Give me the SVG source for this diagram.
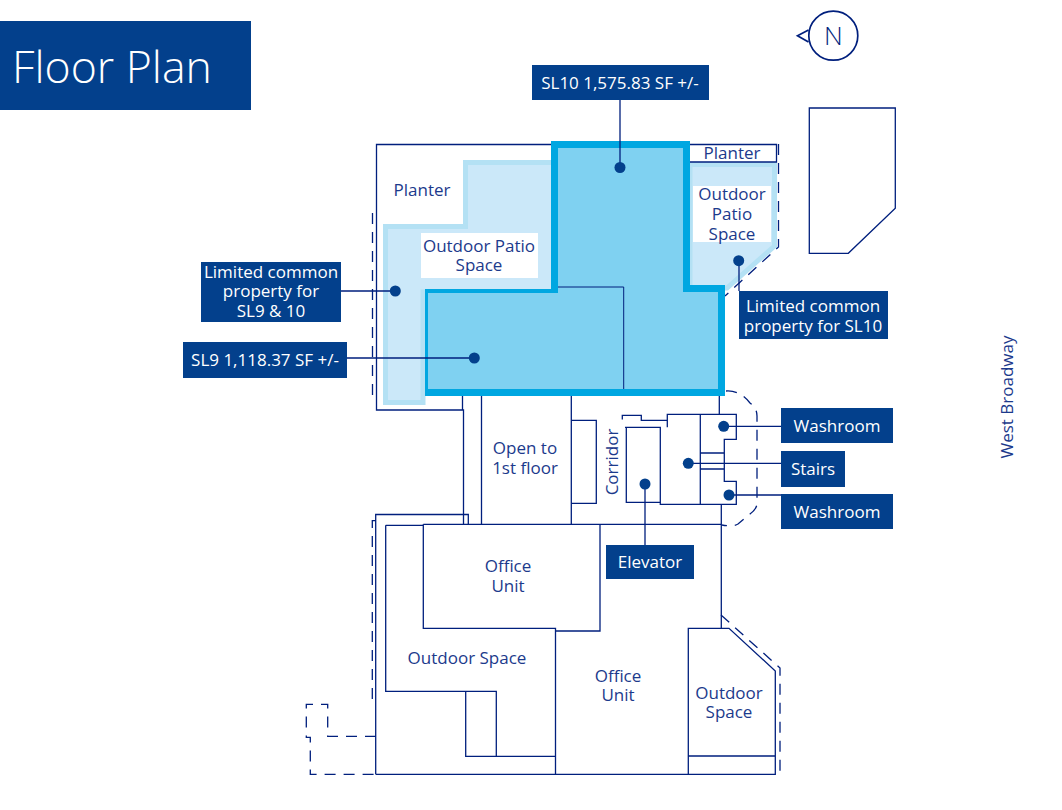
<svg xmlns="http://www.w3.org/2000/svg" width="1062" height="810" viewBox="0 0 1062 810">
<style>
text{font-family:"Open Sans","Noto Sans","Liberation Sans",sans-serif;font-size:17px;text-anchor:middle}
.t{fill:#1c3a8c}.w{fill:#fff}.box{fill:#03408c}
.l{fill:none;stroke:#001f7d;stroke-width:1.3}
.d{fill:none;stroke:#001f7d;stroke-width:1.3;stroke-dasharray:11 8}
.p{fill:#cbe8f9;stroke:#b4e1f4;stroke-width:5}
.lead{stroke:#001f7d;stroke-width:1.3;fill:none}
.dot{fill:#03408c}
</style>
<rect width="1062" height="810" fill="#fff"/>
<g id="title"><rect class="box" x="0" y="21" width="251" height="89"/><text x="12" y="83" class="w" style="font-size:44.6px;font-weight:300;text-anchor:start">Floor Plan</text></g>
<g id="north">
<circle class="l" cx="833.3" cy="35.7" r="24.5" style="stroke-width:1.7"/>
<path class="l" d="M808.500 30 L797.500 35.700 L808.500 42" style="stroke-width:1.7"/>
<text x="833.300" y="45" style="font-size:26px;font-weight:300;fill:#001f7d">N</text>
</g>
<g id="building"><path class="l" d="M809.300 108 H895.300 V208.300 L848.300 253.300 H809.300 Z"/></g>
<g id="patio-left"><path class="p" d="M385.500 226.500 H465.500 V162.500 H554 V292 H423 V402.500 H385.500 Z"/><rect x="421" y="233" width="117" height="45" fill="#fff"/></g>
<g id="patio-right"><path class="p" d="M690 164.500 H774.500 V246 L727 288 V288 H690 Z"/><rect x="693" y="186" width="78" height="56" fill="#fff"/></g>
<g id="walls">
<path class="l" d="M552 144.500 H376.500 V410 H463.500 V525"/>
<path class="l" d="M462.500 396 V410M481.500 396 V524M571.300 396 V524"/>
<path class="l" d="M690 144.500 H776.500 V162 H690"/>
<path class="d" d="M778.500 144 V247 L725 296"/>
<path class="d" d="M372.500 213 V397"/>
<path class="l" d="M571.300 420.300 H596.300 V503.300 H571.300"/>
<path class="l" d="M626.300 427.700 V502.300 H660.300"/>
<path class="l" d="M622.300 419.500 V415.300 H641.300 V420.300 H667.300 V414.300 H736.300 V439.300 H724.300 V481.300 H736.300 V504.300 H660.300 V427.300 H625M667.300 420.300 V427.300M700.300 414.300 V504.300M700.300 453 H724.300M700.300 469 H724.300M719.300 396 V414.300"/>
<path class="d" d="M726 391 Q740 390 750 403 Q757 408 757 416 V503 Q757 509 750 514 L738 524 Q733 527 722 525"/>
<path class="l" d="M375.700 774.300 V514.500 H468.300 V524.500"/>
<path class="l" d="M423.300 524.300 H721.300M385.700 525.300 H423M385.700 525.300 V691.300 H496.300 V756.300M465.700 691.300 V756.300 H555.500"/>
<path class="l" d="M423.300 524.300 V628.300 H555.500 V774.300M555.500 631 H600 V524.300"/>
<path class="l" d="M721.300 504.300 V628.300"/>
<path class="l" d="M375.700 774.300 H775.300 V671 L729 628.300 H688.300 V774.300M688.300 756 H775.300"/>
<path class="d" d="M721 615 L780 668 V772 H775"/>
<path class="d" d="M376 520.700 H372.300 V702 H376"/>
<path class="d" d="M376 736.300 H327.700 V704.300 H306.300 V737.300 H310.300 V774.300 H376"/>
</g>
<g id="sl9-sl10">
<path d="M551 141 H690 V285 H725 V396 H425 V289 H551 Z" fill="#7fd1f1"/>
<path d="M558 287 H623.700 V389" class="l" style="stroke-width:1"/>
<path d="M551 141 H690 V285 H725 V396 H425 V289 H551 Z M558 148 V293 H428 V389 H718 V292 H683 V148 Z" fill="#00a7e1" fill-rule="evenodd"/>
</g>
<g id="connectors">
<path class="lead" d="M620 100 V167M341 291 H395M347 358 H474M739 261 V291M723.700 426.300 H781M688.300 463.300 H781M729 495 H781M645 484 V545"/>
</g>
<g id="dots">
<circle class="dot" cx="620" cy="167.500" r="5.500"/><circle class="dot" cx="395.300" cy="291" r="5.500"/><circle class="dot" cx="474.300" cy="358" r="5.500"/><circle class="dot" cx="738.700" cy="260.700" r="5.500"/><circle class="dot" cx="723.700" cy="426.300" r="5.500"/><circle class="dot" cx="688.300" cy="463.300" r="5.500"/><circle class="dot" cx="729" cy="495" r="5.500"/><circle class="dot" cx="645" cy="484" r="5.500"/>
</g>
<g id="label-sl10"><rect class="box" x="532" y="65" width="177" height="35"/><text x="620" y="89" class="w">SL10 1,575.83 SF +/-</text></g>
<g id="label-lcp-9-10"><rect class="box" x="201" y="262" width="140" height="60"/><text x="271" y="278" class="w">Limited common</text><text x="271" y="297" class="w">property for</text><text x="271" y="317" class="w">SL9 &amp; 10</text></g>
<g id="label-sl9"><rect class="box" x="183" y="342" width="164" height="36"/><text x="265" y="366" class="w">SL9 1,118.37 SF +/-</text></g>
<g id="label-lcp-10"><rect class="box" x="739" y="291" width="149" height="48"/><text x="813" y="312" class="w">Limited common</text><text x="813" y="332" class="w">property for SL10</text></g>
<g id="label-washroom-1"><rect class="box" x="781" y="408" width="112" height="35"/><text x="837" y="432" class="w">Washroom</text></g>
<g id="label-stairs"><rect class="box" x="781" y="451" width="64" height="36"/><text x="813" y="475" class="w">Stairs</text></g>
<g id="label-washroom-2"><rect class="box" x="781" y="494" width="112" height="35"/><text x="837" y="518" class="w">Washroom</text></g>
<g id="label-elevator"><rect class="box" x="606" y="545" width="88" height="34"/><text x="650" y="568" class="w">Elevator</text></g>
<g id="room-labels" class="t">
<text x="422" y="196">Planter</text>
<text x="479" y="252">Outdoor Patio</text><text x="479" y="271">Space</text>
<text x="732" y="159">Planter</text>
<text x="732" y="200">Outdoor</text><text x="732" y="220">Patio</text><text x="732" y="240">Space</text>
<text x="525" y="454">Open to</text><text x="525" y="474">1st floor</text>
<text transform="translate(618 462) rotate(-90)">Corridor</text>
<text x="508" y="572">Office</text><text x="508" y="592">Unit</text>
<text x="467" y="664">Outdoor Space</text>
<text x="618" y="682">Office</text><text x="618" y="701">Unit</text>
<text x="729" y="699">Outdoor</text><text x="729" y="718">Space</text>
<text transform="translate(1013 397) rotate(-90)" style="font-size:17px">West Broadway</text>
</g>
</svg>
